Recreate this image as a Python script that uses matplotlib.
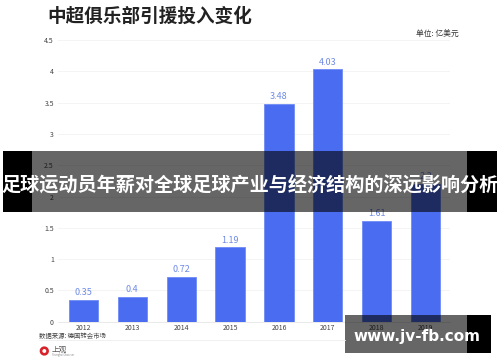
import matplotlib
matplotlib.use('Agg')
import matplotlib.pyplot as plt
from matplotlib.patches import Rectangle, Circle

plt.rcParams['font.family'] = ['Noto Sans CJK SC', 'DejaVu Sans']

years = ['2012', '2013', '2014', '2015', '2016', '2017', '2018', '2019']
values = [0.35, 0.4, 0.72, 1.19, 3.48, 4.03, 1.61, 2.2]
labels = ['0.35', '0.4', '0.72', '1.19', '3.48', '4.03', '1.61', '2.2']
yticks = [0, 0.5, 1, 1.5, 2, 2.5, 3, 3.5, 4, 4.5]
yticklabels = ['0', '0.5', '1', '1.5', '2', '2.5', '3', '3.5', '4', '4.5']

W, H = 500, 362
fig = plt.figure(figsize=(W / 100, H / 100), dpi=100)

# axes placed in pixels, 0 at y=321.7 and 4.5 at y=40
ax = fig.add_axes([58 / W, 1 - 321.7 / H, 392 / W, 281.7 / H])
ax.bar(range(8), values, width=0.6, color='#4a6cf0', edgecolor='#6f8bf5', linewidth=0.6, zorder=3)
for i, v in enumerate(values):
    ax.text(i, v + 0.04, labels[i], ha='center', va='bottom', fontsize=6.5, color='#6f8be8', zorder=4)
ax.set_xlim(-0.52, 7.5)
ax.set_ylim(0, 4.5)
ax.set_xticks(range(8))
ax.set_xticklabels(years)
ax.set_yticks(yticks)
ax.set_yticklabels(yticklabels)
ax.tick_params(axis='both', length=0, labelsize=5, labelcolor='#444444')
ax.tick_params(axis='x', pad=1.5)
ax.tick_params(axis='y', pad=3)
ax.grid(axis='y', color='#f3f3f3', linewidth=0.6, zorder=0)
for s in ['top', 'right', 'left']:
    ax.spines[s].set_visible(False)
ax.spines['bottom'].set_color('#e6e6e6')
ax.spines['bottom'].set_linewidth(0.6)

# overlay axes in pixel coordinates for title, footer and banner
ov = fig.add_axes([0, 0, 1, 1], zorder=5)
ov.set_xlim(0, W)
ov.set_ylim(H, 0)
ov.axis('off')

ov.text(47, 16, '中超俱乐部引援投入变化', fontsize=13.4, fontweight='bold', color='#222222', va='center')
ov.text(416, 34, '单位: 亿美元', fontsize=5.6, color='#333333', va='center')
ov.text(39, 336, '数据来源: 德国转会市场', fontsize=4.6, color='#444444', va='center')
ov.plot([39, 345], [340, 340], color='#eeeeee', linewidth=0.6)
ov.add_patch(Circle((44.3, 351), 3.3, facecolor='none', edgecolor='#d8232a', linewidth=1.9))
ov.text(52, 349.5, '上观', fontsize=5.5, color='#555555', va='center')
ov.text(52, 355, 'Shanghai Observer', fontsize=1.8, color='#888888', va='center')

# banner
ov.add_patch(Rectangle((3, 151), 29, 61, facecolor='black', edgecolor='none'))
ov.add_patch(Rectangle((467, 151), 30, 61, facecolor='black', edgecolor='none'))
ov.add_patch(Rectangle((32, 151), 435, 61, facecolor='black', alpha=0.6, edgecolor='none'))
ov.text(250, 185, '足球运动员年薪对全球足球产业与经济结构的深远影响分析', fontsize=13.8,
        fontweight='bold', color='white', ha='center', va='center')

# watermark box
ov.add_patch(Rectangle((345, 315), 122, 38, facecolor='black', alpha=0.6, edgecolor='none'))
ov.add_patch(Rectangle((467, 315), 24, 38, facecolor='black', edgecolor='none'))
ov.text(417, 336.5, 'www.jv-fb.com', fontsize=11, fontweight='bold', color='white', ha='center', va='center',
        family=['DejaVu Sans'])

fig.savefig('out.png', dpi=100)
